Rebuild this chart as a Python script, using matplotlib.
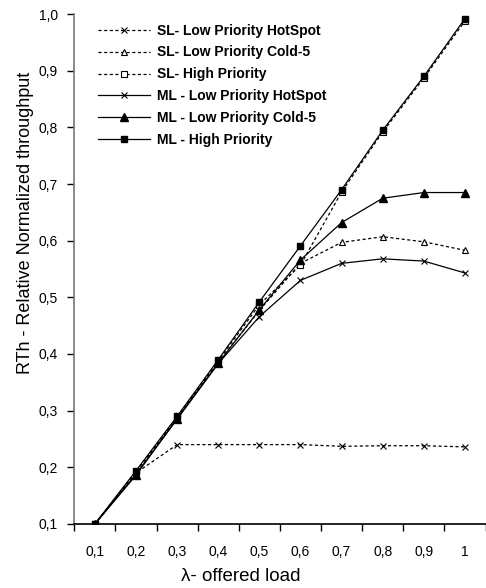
import matplotlib
matplotlib.use("Agg")
import matplotlib.pyplot as plt

plt.rcParams["font.family"] = ["Liberation Sans", "DejaVu Sans"]

loads = ["0,1", "0,2", "0,3", "0,4", "0,5", "0,6", "0,7", "0,8", "0,9", "1"]
y_ticks = [0.1, 0.2, 0.3, 0.4, 0.5, 0.6, 0.7, 0.8, 0.9, 1.0]

sl_low_hotspot = [0.100, 0.190, 0.240, 0.240, 0.240, 0.240, 0.237, 0.238, 0.238, 0.236]
sl_low_cold5 = [0.100, 0.188, 0.287, 0.385, 0.477, 0.560, 0.597, 0.607, 0.598, 0.583]
sl_high = [0.100, 0.192, 0.288, 0.388, 0.487, 0.557, 0.686, 0.792, 0.887, 0.988]
ml_low_hotspot = [0.100, 0.188, 0.285, 0.383, 0.466, 0.530, 0.560, 0.568, 0.564, 0.543]
ml_low_cold5 = [0.100, 0.186, 0.286, 0.384, 0.478, 0.566, 0.632, 0.675, 0.685, 0.685]
ml_high = [0.100, 0.194, 0.290, 0.390, 0.492, 0.591, 0.690, 0.795, 0.890, 0.992]

labels = [
    "SL- Low Priority HotSpot",
    "SL- Low Priority Cold-5",
    "SL- High Priority",
    "ML - Low Priority HotSpot",
    "ML - Low Priority Cold-5",
    "ML - High Priority",
]

fig = plt.figure(figsize=(4.86, 5.88), dpi=100)
ax = fig.add_axes([0.153, 0.109, 0.846, 0.867])

x = list(range(len(loads)))
dash = (0, (2.5, 2))

ax.plot(x, sl_low_hotspot, color="black", lw=0.9, ls=dash, marker="x", ms=5,
        mew=0.8, label=labels[0])
ax.plot(x, sl_low_cold5, color="black", lw=0.9, ls=dash, marker="^", ms=5,
        mfc="white", mew=0.8, label=labels[1])
ax.plot(x, sl_high, color="black", lw=0.9, ls=dash, marker="s", ms=4.5,
        mfc="white", mew=0.8, label=labels[2])
ax.plot(x, ml_low_hotspot, color="black", lw=0.9, marker="x", ms=5,
        mew=0.8, label=labels[3])
ax.plot(x, ml_low_cold5, color="black", lw=0.9, marker="^", ms=6,
        label=labels[4])
ax.plot(x, ml_high, color="black", lw=0.9, marker="s", ms=5,
        label=labels[5])

ax.set_xlim(-0.5, len(loads) - 0.5)
ax.set_ylim(0.1, 1.0)
ax.set_xticks(x)
ax.set_xticklabels(loads)
ax.set_xticks([i - 0.5 for i in range(len(loads) + 1)], minor=True)
ax.tick_params(axis="x", which="major", length=0, pad=15, labelsize=10)
ax.tick_params(axis="x", which="minor", length=5, width=1, direction="out")
ax.set_yticks(y_ticks)
ax.set_yticklabels([("%.1f" % v).replace(".", ",") for v in y_ticks])
ax.tick_params(axis="y", length=5, width=1, direction="out", labelsize=10, pad=7)

for side in ["top", "right"]:
    ax.spines[side].set_visible(False)
ax.spines["left"].set_color("#777777")
ax.spines["left"].set_linewidth(1.2)
ax.spines["bottom"].set_linewidth(1.2)

# labels sit a bit off-centre in the original
ax.set_xlabel("λ- offered load", fontsize=13.5)
ax.xaxis.set_label_coords(0.405, -0.087)
ax.set_ylabel("RTh - Relative Normalized throughput", fontsize=13)
ax.yaxis.set_label_coords(-0.098, 0.59)

ax.legend(loc="upper left", bbox_to_anchor=(0.028, 1.006), frameon=False,
          handlelength=3.75, handletextpad=0.5, labelspacing=0.57,
          prop={"size": 10, "weight": "bold"})

fig.savefig("out.png", dpi=100)
